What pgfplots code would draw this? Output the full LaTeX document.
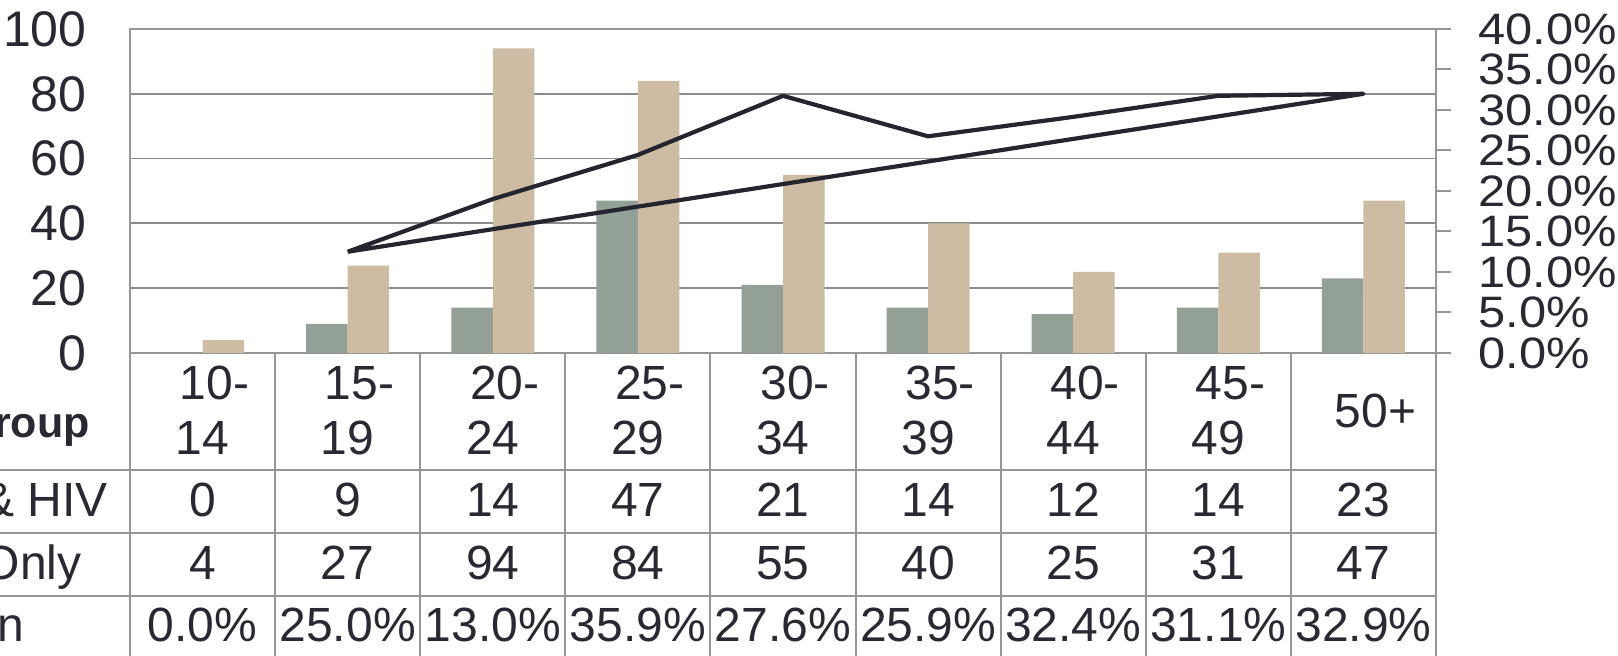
\documentclass[border=0pt]{standalone}
\usepackage{fontspec}
\setmainfont{Liberation Sans}
\newfontfamily\widefont[FakeStretch=1.11]{Liberation Sans}
\usepackage{pgfplots}
\pgfplotsset{compat=1.18}
\definecolor{txt}{RGB}{41,41,51}
\definecolor{grn}{RGB}{146,160,150}
\definecolor{tanc}{RGB}{206,187,163}
\definecolor{gridc}{RGB}{140,140,140}
\definecolor{tabc}{RGB}{150,150,150}
\definecolor{linec}{RGB}{37,37,48}
\newcommand\tfont{\fontsize{24}{28}\selectfont}

\begin{document}
\begin{tikzpicture}
\useasboundingbox (0,0) rectangle (809pt,-328pt);
\clip (0,0) rectangle (809pt,-328pt);
\begin{axis}[
  at={(65pt,-176.5pt)}, anchor=south west,
  scale only axis, width=653pt, height=162pt,
  xmin=-0.5, xmax=8.5, ymin=0, ymax=100,
  xtick=\empty,
  ytick={0,20,40,60,80,100},
  yticklabels={0,20,40,60,80,100},
  ymajorgrids, grid style={gridc, line width=0.9pt},
  axis line style={tabc, line width=1pt},
  major tick length=0pt,
  yticklabel style={anchor=east, inner sep=0pt, xshift=-21.5pt, font=\fontsize{25}{25}\selectfont, text=txt},
  ybar=0pt, bar width=20.75pt,
]
\addplot[fill=grn, draw=none] coordinates {(0,0) (1,9) (2,14) (3,47) (4,21) (5,14) (6,12) (7,14) (8,23)};
\addplot[fill=tanc, draw=none] coordinates {(0,4) (1,27) (2,94) (3,84) (4,55) (5,40) (6,25) (7,31) (8,47)};
\end{axis}
\begin{axis}[
  at={(65pt,-176.5pt)}, anchor=south west,
  scale only axis, width=653pt, height=162pt,
  xmin=-0.5, xmax=8.5, ymin=0, ymax=40,
  axis y line*=right, axis x line=none,
  ytick={0,5,10,15,20,25,30,35,40},
  yticklabels={0.0\%,5.0\%,10.0\%,15.0\%,20.0\%,25.0\%,30.0\%,35.0\%,40.0\%},
  tick align=outside, major tick length=7.5pt,
  tick style={tabc, line width=1pt},
  axis line style={tabc, line width=1pt},
  yticklabel style={anchor=west, inner sep=0pt, xshift=13.5pt, font=\widefont\fontsize{22}{22}\selectfont, text=txt},
]
\addplot[linec, line width=2.1pt, line join=round] coordinates {(1,12.5) (2,19.0) (3,24.45) (4,31.75) (5,26.75) (6,29.15) (7,31.75) (8,32.0) (1,12.5)};
\end{axis}
\begin{scope}[x=0.5pt, y=-0.5pt]
  \draw[tabc, line width=1pt] (0,470) -- (1436,470) (0,532.7) -- (1436,532.7) (0,595.7) -- (1436,595.7);
  \foreach \i in {0,...,9} \draw[tabc, line width=1pt] ({130+\i*145.111},353) -- ({130+\i*145.111},670);
  \foreach \a/\b [count=\i from 0] in {10-/14,15-/19,20-/24,25-/29,30-/34,35-/39,40-/44,45-/49} {
    \node[anchor=base, text=txt, font=\tfont, inner sep=0pt] at ({130+(\i+0.5)*145.111+12},400) {\a};
    \node[anchor=base, text=txt, font=\tfont, inner sep=0pt] at ({130+(\i+0.5)*145.111},455) {\b};
  }
  \node[anchor=base, text=txt, font=\tfont, inner sep=0pt] at ({130+8.5*145.111+12},428) {50+};
  \foreach \v [count=\i from 0] in {0,9,14,47,21,14,12,14,23}
    \node[anchor=base, text=txt, font=\tfont, inner sep=0pt] at ({130+(\i+0.5)*145.111},516.7) {\v};
  \foreach \v [count=\i from 0] in {4,27,94,84,55,40,25,31,47}
    \node[anchor=base, text=txt, font=\tfont, inner sep=0pt] at ({130+(\i+0.5)*145.111},580) {\v};
  \foreach \v [count=\i from 0] in {0.0\%,25.0\%,13.0\%,35.9\%,27.6\%,25.9\%,32.4\%,31.1\%,32.9\%}
    \node[anchor=base, text=txt, font=\tfont, inner sep=0pt] at ({130+(\i+0.5)*145.111},641.7) {\v};
  \node[anchor=base east, text=txt, font=\fontsize{21.5}{25}\selectfont\bfseries, inner sep=0pt] at (90,438) {Age Group};
  \node[anchor=base east, text=txt, font=\tfont, inner sep=0pt] at (108,516.7) {TB \& HIV};
  \node[anchor=base east, text=txt, font=\tfont, inner sep=0pt] at (82,580) {TB Only};
  \node[anchor=base east, text=txt, font=\tfont, inner sep=0pt] at (25,641.7) {\% Co-infection};
\end{scope}
\end{tikzpicture}
\end{document}
